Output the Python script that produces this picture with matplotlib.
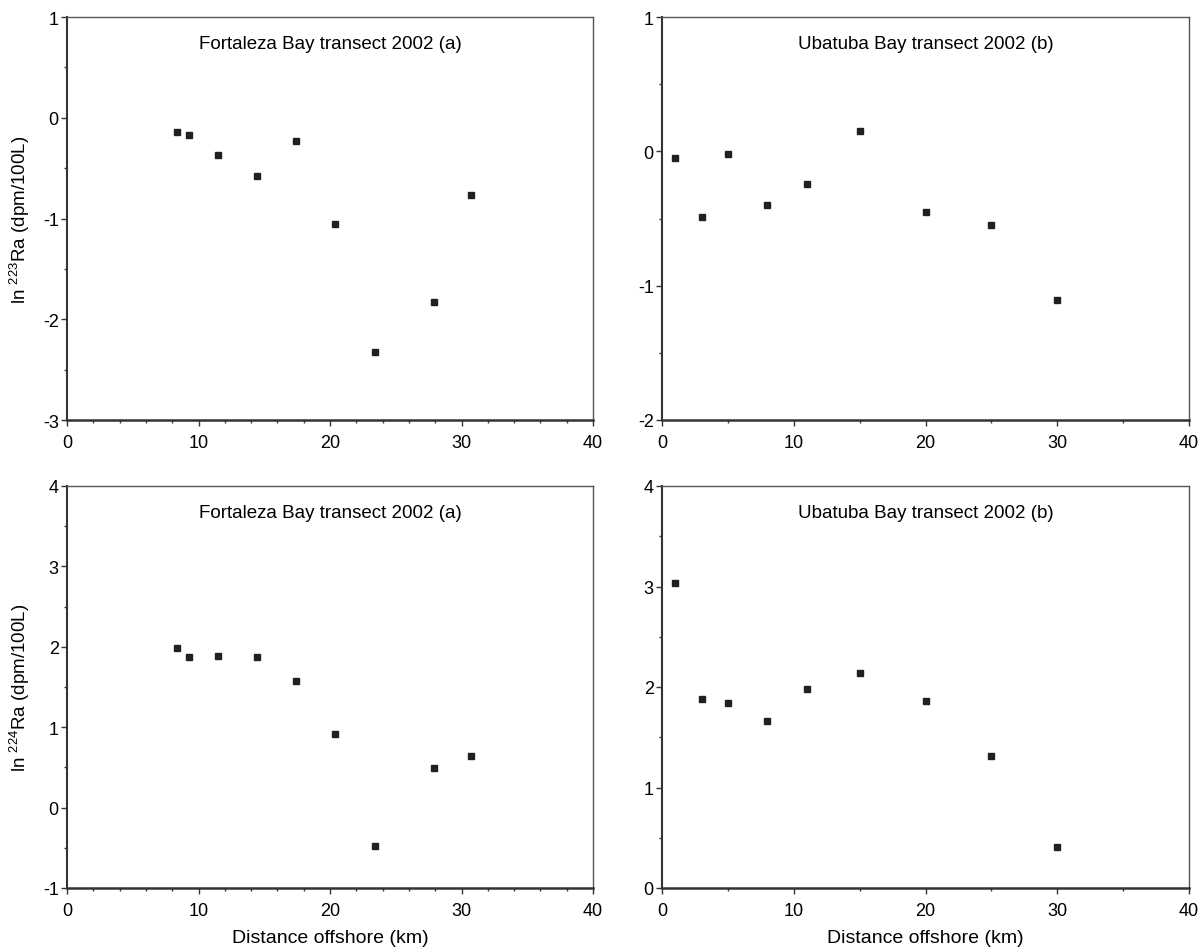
import matplotlib
matplotlib.use("Agg")
import matplotlib.pyplot as plt
from matplotlib.ticker import MultipleLocator

plt.rcParams['font.family'] = ['Liberation Sans', 'DejaVu Sans']
plt.rcParams['axes.unicode_minus'] = False

# Fortaleza Bay (a)
fort_x = [8.4, 9.3, 11.5, 14.45, 17.45, 20.4, 23.45, 27.9, 30.7]
fort_ra223 = [-0.14, -0.17, -0.37, -0.58, -0.23, -1.05, -2.33, -1.83, -0.77]
fort_ra224 = [1.98, 1.87, 1.89, 1.87, 1.58, 0.92, -0.48, 0.49, 0.64]

# Ubatuba Bay (b)
uba_x = [1, 3, 5, 8, 11, 15, 20, 25, 30]
uba_ra223 = [-0.05, -0.49, -0.02, -0.40, -0.24, 0.15, -0.45, -0.55, -1.11]
uba_ra224 = [3.03, 1.88, 1.84, 1.66, 1.98, 2.14, 1.86, 1.31, 0.41]

titles = ["Fortaleza Bay transect 2002 (a)", "Ubatuba Bay transect 2002 (b)"]
ylims = [(-3, 1), (-2, 1), (-1, 4), (0, 4)]
ylabels = ["ln $^{\\mathregular{223}}$Ra (dpm/100L)", "ln $^{\\mathregular{224}}$Ra (dpm/100L)"]

fig = plt.figure(figsize=(12.03, 9.53), dpi=100)
W, H = 1203, 953
boxes = [(67, 18, 593, 421), (662, 18, 1189, 421),
         (67, 487, 593, 889), (662, 487, 1189, 889)]

panels = [(fort_x, fort_ra223), (uba_x, uba_ra223),
          (fort_x, fort_ra224), (uba_x, uba_ra224)]

for i, (x0, y0, x1, y1) in enumerate(boxes):
    ax = fig.add_axes([x0 / W, 1 - y1 / H, (x1 - x0) / W, (y1 - y0) / H])
    xs, ys = panels[i]
    ax.plot(xs, ys, linestyle='none', marker='s', markersize=4.5,
            color='#231f20')
    ax.set_xlim(0, 40)
    ax.set_ylim(*ylims[i])
    ax.xaxis.set_major_locator(MultipleLocator(10))
    ax.xaxis.set_minor_locator(MultipleLocator(2 if i % 2 == 0 else 5))
    ax.yaxis.set_major_locator(MultipleLocator(1))
    ax.yaxis.set_minor_locator(MultipleLocator(0.5))
    ax.tick_params(which='major', direction='out', length=4, width=1,
                   color='#333333', labelsize=13, pad=2)
    ax.tick_params(which='minor', direction='out', length=2, width=1,
                   color='#333333')
    ax.tick_params(axis='x', pad=6)
    for s in ax.spines.values():
        s.set_linewidth(1.0)
        s.set_color('#555555')
    ax.spines['left'].set_linewidth(1.5)
    ax.spines['bottom'].set_linewidth(1.8)
    ax.spines['left'].set_color('#333333')
    ax.spines['bottom'].set_color('#333333')
    ax.text(0.5, 0.935, titles[i % 2], transform=ax.transAxes,
            ha='center', va='center', fontsize=13.5)
    if i % 2 == 0:
        ax.set_ylabel(ylabels[i // 2], fontsize=13.5, labelpad=8)
    if i >= 2:
        ax.set_xlabel("Distance offshore (km)", fontsize=14, labelpad=7)

fig.savefig("out.png", dpi=100)
